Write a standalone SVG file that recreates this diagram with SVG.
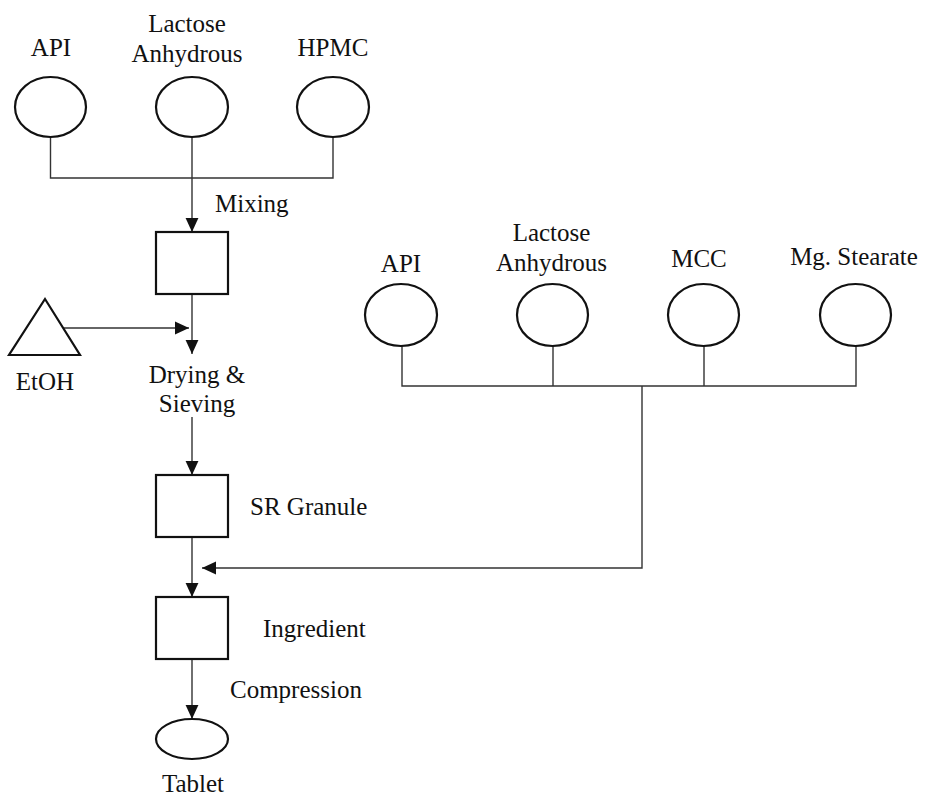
<svg xmlns="http://www.w3.org/2000/svg" width="926" height="797" viewBox="0 0 926 797" font-family="'Liberation Serif', 'Times New Roman', serif">
<style>
text{font-size:25px;fill:#111}
.m{text-anchor:middle}
.s{fill:#fff;stroke:#111;stroke-width:2.2}
.c{fill:none;stroke:#333;stroke-width:1.4}
</style>
<defs>
<marker id="ah" markerUnits="userSpaceOnUse" markerWidth="14" markerHeight="14" viewBox="0 0 12 12" refX="12" refY="6" orient="auto">
<path d="M0,0.5 L12,6 L0,11.5 Z" fill="#111"/>
</marker>
</defs>
<g id="connectors">
<path class="c" d="M50.5,137 V178 H333 V137"/>
<path class="c" d="M192,137 V232" marker-end="url(#ah)"/>
<path class="c" d="M192,294 V354" marker-end="url(#ah)"/>
<path class="c" d="M63,328 H189" marker-end="url(#ah)"/>
<path class="c" d="M192,417 V475" marker-end="url(#ah)"/>
<path class="c" d="M192,537 V597" marker-end="url(#ah)"/>
<path class="c" d="M192,659 V719" marker-end="url(#ah)"/>
<path class="c" d="M402,346 V386 H856 V346 M553,346 V386 M704,346 V386"/>
<path class="c" d="M642,386 V568 H202" marker-end="url(#ah)"/>
</g>
<g id="api1"><ellipse class="s" cx="50.5" cy="107" rx="35.5" ry="30"/><text class="m" x="51" y="56" font-family="Liberation Serif, serif">API</text></g>
<g id="lactose1"><ellipse class="s" cx="192" cy="107" rx="36" ry="30"/><text class="m" x="187" y="32">Lactose</text><text class="m" x="187" y="62">Anhydrous</text></g>
<g id="hpmc"><ellipse class="s" cx="333" cy="107" rx="36" ry="30"/><text class="m" x="333" y="56">HPMC</text></g>
<g id="mixing"><rect class="s" x="156" y="232" width="72" height="62"/><text x="215" y="212">Mixing</text></g>
<g id="etoh"><path class="s" d="M45,299 L80,355 L9,355 Z"/><text class="m" x="45" y="390">EtOH</text></g>
<g id="drying"><text class="m" x="197" y="383">Drying &amp;</text><text class="m" x="197" y="412">Sieving</text></g>
<g id="sr"><rect class="s" x="156" y="475" width="72" height="62"/><text x="250" y="515">SR Granule</text></g>
<g id="ingredient"><rect class="s" x="156" y="597" width="72" height="62"/><text x="263" y="637">Ingredient</text><text x="230" y="698">Compression</text></g>
<g id="tablet"><ellipse class="s" cx="192" cy="739" rx="36" ry="20"/><text class="m" x="193" y="792">Tablet</text></g>
<g id="api2"><ellipse class="s" cx="401" cy="315" rx="36" ry="31"/><text class="m" x="401" y="272">API</text></g>
<g id="lactose2"><ellipse class="s" cx="552.5" cy="315" rx="35.5" ry="31"/><text class="m" x="551.5" y="241">Lactose</text><text class="m" x="551.5" y="271">Anhydrous</text></g>
<g id="mcc"><ellipse class="s" cx="703.5" cy="315" rx="35.5" ry="31"/><text class="m" x="699" y="267">MCC</text></g>
<g id="mg"><ellipse class="s" cx="855.5" cy="315" rx="35.5" ry="31"/><text class="m" x="854" y="265">Mg. Stearate</text></g>
</svg>
